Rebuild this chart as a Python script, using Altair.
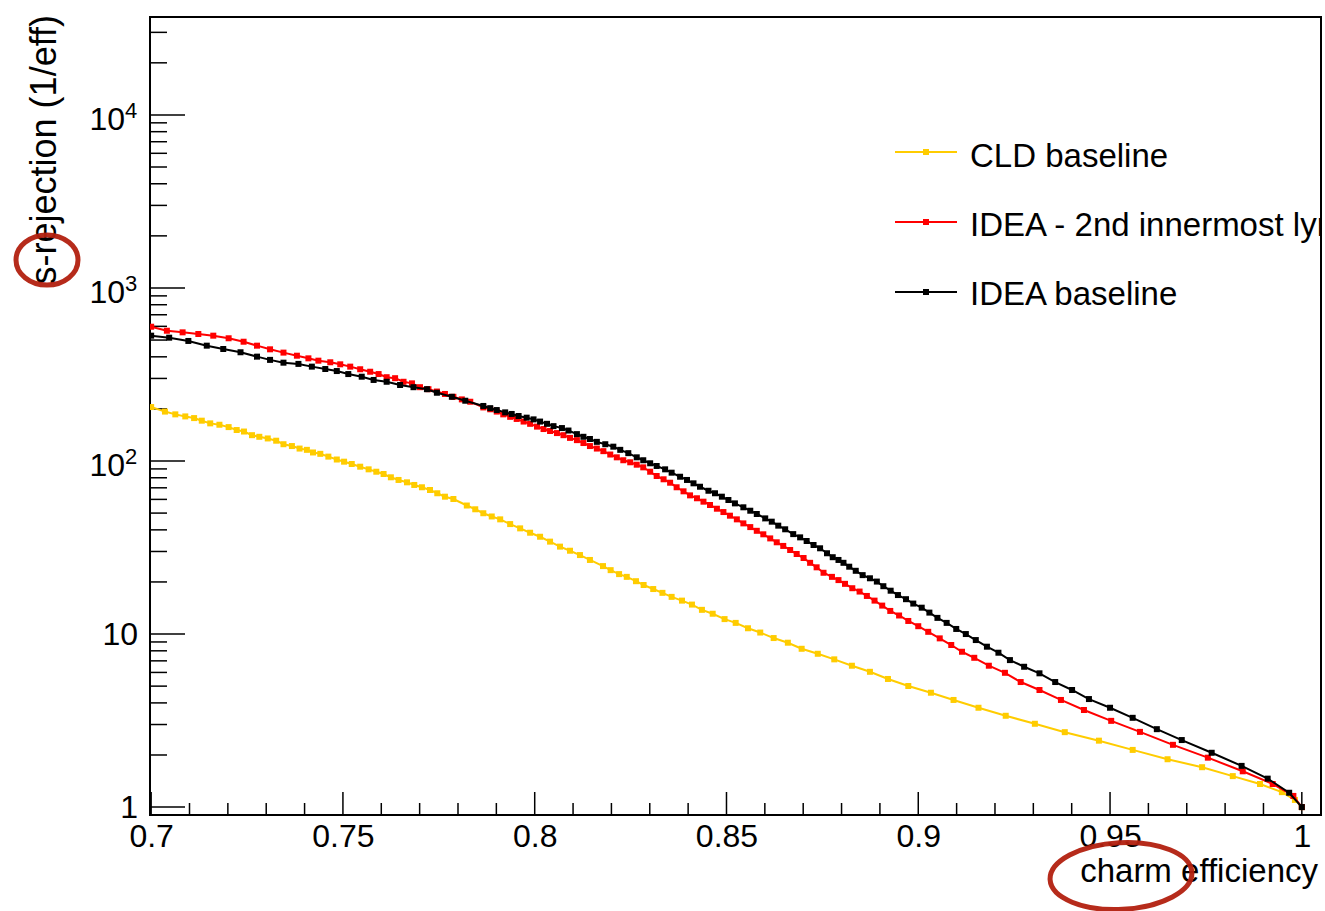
import altair as alt
import pandas as pd

# ---------------- data ----------------
cld_x = [0.7, .7036, .7063, .7089, .7112, .7132, .7154, .7178, .7202, .7223, .7242, .7263, .7282, .7304,
         .7326, .7345, .7367, .7387, .7406, .7422, .7441, .7462, .7484, .7503, .7523, .7545, .7567, .7587,
         .7606, .7625, .7645, .7667, .7686, .7706, .7727, .7746, .7766, .7788, .7823, .7845, .7866, .7888,
         .7910, .7936, .7962, .7988, .8014, .8040, .8066, .8092, .8118, .8144, .8178, .8198, .8220, .8240,
         .8264, .8284, .8309, .8333, .8357, .8384, .8410, .8436, .8464, .8495, .8524, .8556, .8588, .8623,
         .8660, .8696, .8738, .8781, .8827, .8874, .8921, .8974, .9033, .9092, .9157, .9228, .9304, .9382,
         .9471, .9559, .9650, .9740, .9820, .9891, .9948, .9982, 1.0]
cld_y = [205, 193, 186, 181, 177, 171, 165, 162, 157, 151, 148, 141, 138, 135,
         131, 125, 122, 118, 116, 112, 110, 106, 102, 99.1, 96.1, 92.7, 89.5, 86.7,
         84.1, 80.5, 77.7, 75.3, 72.7, 70.5, 68.0, 65.1, 62.2, 60.3, 55.3, 52.6, 49.9, 47.8,
         46.0, 43.2, 40.8, 38.5, 36.5, 34.2, 32.0, 30.3, 28.6, 26.8, 24.7, 23.4, 22.2, 21.4,
         20.2, 19.2, 18.2, 17.3, 16.4, 15.6, 14.8, 13.8, 13.1, 12.2, 11.6, 10.8, 10.2, 9.48,
         8.91, 8.22, 7.69, 7.14, 6.56, 6.05, 5.50, 5.01, 4.58, 4.16, 3.75, 3.37, 3.03, 2.71,
         2.42, 2.14, 1.89, 1.70, 1.51, 1.36, 1.22, 1.10, 1.0]

idea2_x = [0.7, .7041, .7082, .7123, .7162, .7202, .7241, .7276, .7310, .7345, .7380, .7410, .7436, .7467,
           .7493, .7519, .7545, .7571, .7593, .7614, .7636, .7658, .7680, .7701, .7723, .7745, .7766, .7788,
           .7810, .7832, .7866, .7884, .7901, .7918, .7936, .7953, .7971, .7988, .8006, .8023, .8040, .8058,
           .8075, .8092, .8110, .8127, .8144, .8162, .8179, .8197, .8214, .8231, .8249, .8266, .8283, .8301,
           .8318, .8336, .8353, .8370, .8388, .8405, .8423, .8440, .8457, .8475, .8492, .8509, .8527, .8544,
           .8562, .8579, .8596, .8614, .8631, .8648, .8666, .8683, .8701, .8718, .8735, .8753, .8775, .8792,
           .8809, .8828, .8847, .8866, .8886, .8906, .8927, .8950, .8974, .9000, .9026, .9056, .9086, .9114,
           .9146, .9184, .9226, .9267, .9316, .9372, .9432, .9503, .9578, .9664, .9755, .9846, .9924, .9978, 1.0]
idea2_y = [597, 566, 554, 542, 530, 512, 489, 464, 442, 423, 406, 392, 380, 372,
           362, 351, 339, 328, 318, 305, 301, 287, 281, 267, 260, 252, 244, 235,
           227, 220, 204, 199, 193, 186, 180, 175, 169, 164, 158, 153, 149, 145,
           141, 136, 132, 127, 122, 118, 114, 109, 105, 101, 98.3, 95.2, 91.9, 86.7,
           81.9, 78.4, 74.9, 70.5, 66.8, 63.3, 60.9, 58.2, 55.7, 53.0, 50.7, 48.3, 46.0, 43.6,
           41.5, 39.5, 37.7, 35.7, 33.9, 32.3, 30.6, 29.0, 27.5, 25.8, 24.3, 22.6, 21.4, 20.5,
           19.5, 18.4, 17.6, 16.6, 15.6, 14.6, 13.6, 12.8, 11.9, 11.1, 10.3, 9.44, 8.64, 7.90,
           7.29, 6.56, 5.97, 5.28, 4.75, 4.16, 3.64, 3.15, 2.72, 2.29, 1.93, 1.61, 1.36, 1.16, 1.0]

idea_x = [0.7, .7047, .7097, .7145, .7188, .7233, .7276, .7310, .7345, .7384, .7419, .7454, .7484, .7514,
          .7549, .7580, .7614, .7649, .7684, .7719, .7745, .7784, .7819, .7866, .7884, .7901, .7923, .7940,
          .7958, .7979, .7997, .8014, .8032, .8049, .8071, .8088, .8110, .8127, .8144, .8162, .8184, .8205,
          .8223, .8244, .8266, .8283, .8301, .8318, .8340, .8357, .8379, .8397, .8414, .8431, .8453, .8470,
          .8488, .8505, .8522, .8544, .8562, .8579, .8601, .8618, .8635, .8653, .8674, .8692, .8709, .8727,
          .8744, .8762, .8777, .8792, .8805, .8820, .8837, .8855, .8874, .8892, .8909, .8928, .8947, .8968,
          .8987, .9009, .9029, .9050, .9074, .9099, .9124, .9150, .9179, .9209, .9239, .9276, .9316, .9357,
          .9401, .9445, .9500, .9559, .9622, .9687, .9765, .9843, .9911, .9967, 1.0]
idea_y = [530, 516, 494, 464, 444, 425, 401, 384, 370, 364, 351, 340, 331, 318,
          307, 294, 287, 275, 267, 260, 248, 235, 223, 208, 202, 197, 191, 187,
          182, 178, 174, 169, 164, 159, 155, 150, 143, 138, 134, 129, 125, 121,
          116, 111, 105, 101, 97.0, 93.6, 89.5, 85.6, 81.1, 77.7, 74.3, 71.0, 67.3, 65.1,
          62.2, 59.5, 56.9, 54.0, 51.6, 49.4, 46.6, 44.6, 42.3, 40.3, 37.8, 36.2, 34.5, 32.7,
          31.3, 29.3, 27.8, 26.8, 25.8, 24.5, 23.2, 21.9, 21.0, 20.1, 18.9, 17.8, 16.8, 15.9,
          15.0, 14.2, 13.3, 12.4, 11.6, 10.7, 10.0, 9.23, 8.45, 7.80, 7.07, 6.47, 5.93, 5.28,
          4.75, 4.21, 3.75, 3.28, 2.82, 2.44, 2.06, 1.73, 1.46, 1.21, 1.0]

series_names = ["CLD baseline", "IDEA - 2nd innermost lyr", "IDEA baseline"]
series_colors = ["#FFCC00", "#FF0000", "#000000"]

x_major = [0.7, 0.75, 0.8, 0.85, 0.9, 0.95, 1.0]
x_minor = [round(0.7 + 0.01 * i, 2) for i in range(31) if i % 5 != 0]
y_major = [1, 10, 100, 1000, 10000]
y_minor = [k * 10 ** d for d in range(5) for k in range(2, 10) if k * 10 ** d < 36000]
y_plain_labels = ["1", "10"]
y_pow_exps = ["2", "3", "4"]

# ---------------- layout ----------------
W, H = 1171, 798
FONT = "Liberation Sans"
ONE = pd.DataFrame({"a": [0]})

xscale = alt.Scale(domain=[0.6997, 1.005], nice=False, zero=False)
yscale = alt.Scale(type="log", domain=[0.9, 36800], nice=False)
xaxis = alt.Axis(values=x_major, format="~g", ticks=False, domain=False, grid=False,
                 labelFont=FONT, labelFontSize=32, labelColor="black", labelPadding=6,
                 labelFlush=False, labelOverlap=False, title=None)
X = alt.X("x:Q", scale=xscale, axis=xaxis)
Y = alt.Y("y:Q", scale=yscale, axis=None)

layers = []

# frame ticks (inward, ROOT style)
layers.append(alt.Chart(pd.DataFrame({"x": x_major})).mark_rule(color="black", strokeWidth=1.5)
              .encode(x=X, y=alt.value(H), y2=alt.value(H - 23)))
layers.append(alt.Chart(pd.DataFrame({"x": x_minor})).mark_rule(color="black", strokeWidth=1.5)
              .encode(x=X, y=alt.value(H), y2=alt.value(H - 12)))
layers.append(alt.Chart(pd.DataFrame({"y": y_major})).mark_rule(color="black", strokeWidth=1.5)
              .encode(y=Y, x=alt.value(0), x2=alt.value(35)))
layers.append(alt.Chart(pd.DataFrame({"y": y_minor})).mark_rule(color="black", strokeWidth=1.5)
              .encode(y=Y, x=alt.value(0), x2=alt.value(17)))

# y tick labels
layers.append(alt.Chart(pd.DataFrame({"y": [1, 10], "t": y_plain_labels}))
              .mark_text(align="right", baseline="middle", font=FONT, fontSize=32, color="black", dy=1)
              .encode(y=Y, x=alt.value(-12), text="t:N"))
layers.append(alt.Chart(pd.DataFrame({"y": [100, 1000, 10000], "t": ["10"] * 3}))
              .mark_text(align="right", baseline="middle", font=FONT, fontSize=32, color="black", dy=5)
              .encode(y=Y, x=alt.value(-25), text="t:N"))
layers.append(alt.Chart(pd.DataFrame({"y": [100, 1000, 10000], "t": y_pow_exps}))
              .mark_text(align="left", baseline="middle", font=FONT, fontSize=22, color="black", dy=-4)
              .encode(y=Y, x=alt.value(-25), text="t:N"))

# series
data = [(cld_x, cld_y), (idea2_x, idea2_y), (idea_x, idea_y)]
for (xs, ys), name, col in zip(data, series_names, series_colors):
    df = pd.DataFrame({"x": xs, "y": ys})
    base = alt.Chart(df)
    layers.append(base.mark_line(color=col, strokeWidth=2, clip=True).encode(x=X, y=Y))
    layers.append(base.mark_point(shape="square", filled=True, size=36, opacity=1, color=col, clip=True)
                  .encode(x=X, y=Y))

# legend (no border, ROOT TLegend style)
leg_line_y = [135, 205, 275]
leg_text_y = [150, 219, 288]
for name, col, ly, ty in zip(series_names, series_colors, leg_line_y, leg_text_y):
    c = alt.Chart(ONE)
    layers.append(c.mark_rule(color=col, strokeWidth=2)
                  .encode(x=alt.value(745), x2=alt.value(807), y=alt.value(ly)))
    layers.append(c.mark_point(shape="square", filled=True, size=36, opacity=1, color=col)
                  .encode(x=alt.value(776), y=alt.value(ly)))
    layers.append(c.mark_text(text=name, align="left", baseline="alphabetic", font=FONT, fontSize=33,
                              color="black", clip=True)
                  .encode(x=alt.value(820), y=alt.value(ty)))

# axis titles
layers.append(alt.Chart(ONE).mark_text(text="charm efficiency", align="right", baseline="alphabetic",
                                       font=FONT, fontSize=33, color="black")
              .encode(x=alt.value(1168), y=alt.value(865)))
layers.append(alt.Chart(ONE).mark_text(text="s-rejection (1/eff)", align="right", baseline="alphabetic",
                                       angle=270, font=FONT, fontSize=36, color="black")
              .encode(x=alt.value(-94), y=alt.value(-2)))

# hand-drawn red circles
RED = "#B3200F"
layers.append(alt.Chart(ONE).mark_point(shape="M -1 0 A 1 0.81 0 1 0 1 0 A 1 0.81 0 1 0 -1 0 Z",
                                        size=62 * 62, filled=False, color=RED, strokeWidth=5, opacity=0.95)
              .encode(x=alt.value(-103), y=alt.value(243)))
layers.append(alt.Chart(ONE).mark_point(shape="M -1 0 A 1 0.47 0 1 0 1 0 A 1 0.47 0 1 0 -1 0 Z",
                                        size=142 * 142, filled=False, color=RED, strokeWidth=5, opacity=0.95,
                                        angle=357)
              .encode(x=alt.value(971), y=alt.value(859)))

chart = alt.layer(*layers).properties(
    width=W, height=H,
    autosize=alt.AutoSizeParams(type="none"),
    padding={"left": 150, "top": 17, "right": 4, "bottom": 96},
    background="white",
).configure_view(stroke="black", strokeWidth=2)

chart.save("out.html", embed_options={"renderer": "svg", "actions": False})
